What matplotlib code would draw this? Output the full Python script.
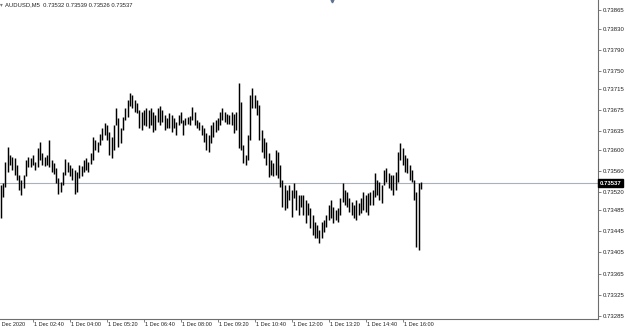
import matplotlib
matplotlib.use('Agg')  # Use non-GUI backend
import matplotlib.pyplot as plt
import matplotlib.transforms as mtransforms

# AUDUSD M5 bars (high / low per bar)
highs = [
    0.73533, 0.73537, 0.73577, 0.73605, 0.73590, 0.73586, 0.73585, 0.73571, 0.73552, 0.73543,
    0.73552, 0.73581, 0.73586, 0.73585, 0.73590, 0.73577, 0.73604, 0.73615, 0.73594, 0.73586,
    0.73590, 0.73619, 0.73581, 0.73575, 0.73566, 0.73547, 0.73539, 0.73558, 0.73583, 0.73577,
    0.73571, 0.73566, 0.73562, 0.73558, 0.73571, 0.73569, 0.73581, 0.73585, 0.73577, 0.73594,
    0.73624, 0.73619, 0.73615, 0.73630, 0.73642, 0.73651, 0.73647, 0.73634, 0.73624, 0.73647,
    0.73680, 0.73661, 0.73642, 0.73662, 0.73680, 0.73695, 0.73708, 0.73704, 0.73695, 0.73689,
    0.73676, 0.73672, 0.73676, 0.73680, 0.73676, 0.73680, 0.73672, 0.73666, 0.73680, 0.73683,
    0.73676, 0.73666, 0.73661, 0.73670, 0.73666, 0.73661, 0.73653, 0.73666, 0.73672, 0.73657,
    0.73661, 0.73662, 0.73664, 0.73681, 0.73672, 0.73657, 0.73653, 0.73647, 0.73642, 0.73632,
    0.73628, 0.73647, 0.73653, 0.73657, 0.73661, 0.73672, 0.73680, 0.73672, 0.73668, 0.73666,
    0.73672, 0.73668, 0.73672, 0.73727, 0.73691, 0.73609, 0.73590, 0.73628, 0.73704, 0.73718,
    0.73704, 0.73695, 0.73685, 0.73638, 0.73623, 0.73615, 0.73594, 0.73581, 0.73575, 0.73600,
    0.73596, 0.73571, 0.73543, 0.73533, 0.73524, 0.73533, 0.73524, 0.73537, 0.73524, 0.73514,
    0.73514, 0.73514, 0.73505, 0.73499, 0.73490, 0.73476, 0.73463, 0.73457, 0.73448, 0.73463,
    0.73467, 0.73476, 0.73495, 0.73505, 0.73491, 0.73486, 0.73490, 0.73509, 0.73537, 0.73524,
    0.73520, 0.73509, 0.73501, 0.73495, 0.73505, 0.73499, 0.73509, 0.73520, 0.73514, 0.73518,
    0.73520, 0.73524, 0.73556, 0.73543, 0.73539, 0.73533, 0.73562, 0.73566, 0.73556, 0.73552,
    0.73552, 0.73558, 0.73596, 0.73613, 0.73604, 0.73590, 0.73585, 0.73571, 0.73562, 0.73543,
    0.73520, 0.73537, 0.73539,
]
lows = [
    0.73471, 0.73510, 0.73529, 0.73558, 0.73571, 0.73562, 0.73552, 0.73543, 0.73524, 0.73514,
    0.73527, 0.73550, 0.73567, 0.73567, 0.73571, 0.73562, 0.73567, 0.73581, 0.73571, 0.73569,
    0.73571, 0.73567, 0.73558, 0.73554, 0.73537, 0.73516, 0.73520, 0.73533, 0.73552, 0.73558,
    0.73550, 0.73543, 0.73516, 0.73520, 0.73547, 0.73550, 0.73558, 0.73562, 0.73558, 0.73573,
    0.73581, 0.73600, 0.73596, 0.73609, 0.73619, 0.73628, 0.73619, 0.73590, 0.73585, 0.73600,
    0.73647, 0.73605, 0.73613, 0.73638, 0.73657, 0.73662, 0.73683, 0.73680, 0.73672, 0.73670,
    0.73642, 0.73638, 0.73647, 0.73645, 0.73642, 0.73647, 0.73634, 0.73638, 0.73653, 0.73647,
    0.73653, 0.73638, 0.73642, 0.73642, 0.73634, 0.73642, 0.73628, 0.73647, 0.73651, 0.73628,
    0.73647, 0.73649, 0.73647, 0.73657, 0.73647, 0.73642, 0.73638, 0.73628, 0.73615, 0.73600,
    0.73596, 0.73613, 0.73624, 0.73634, 0.73638, 0.73647, 0.73657, 0.73653, 0.73649, 0.73649,
    0.73647, 0.73632, 0.73638, 0.73604, 0.73600, 0.73575, 0.73571, 0.73581, 0.73619, 0.73680,
    0.73680, 0.73666, 0.73619, 0.73596, 0.73585, 0.73571, 0.73548, 0.73552, 0.73550, 0.73552,
    0.73547, 0.73529, 0.73491, 0.73486, 0.73490, 0.73505, 0.73472, 0.73509, 0.73486, 0.73476,
    0.73491, 0.73476, 0.73461, 0.73476, 0.73452, 0.73438, 0.73433, 0.73433, 0.73423, 0.73433,
    0.73444, 0.73453, 0.73467, 0.73471, 0.73461, 0.73467, 0.73463, 0.73476, 0.73501, 0.73495,
    0.73491, 0.73482, 0.73476, 0.73471, 0.73467, 0.73476, 0.73480, 0.73486, 0.73482, 0.73476,
    0.73495, 0.73495, 0.73510, 0.73514, 0.73505, 0.73499, 0.73533, 0.73539, 0.73527, 0.73524,
    0.73514, 0.73524, 0.73539, 0.73581, 0.73571, 0.73558, 0.73556, 0.73543, 0.73539, 0.73505,
    0.73415, 0.73410, 0.73526,
]

symbol = "AUDUSD,M5"
last_ohlc = ["0.73532", "0.73539", "0.73526", "0.73537"]
last_price = 0.73537

price_ticks = [0.73865, 0.73830, 0.73790, 0.73750, 0.73715, 0.73675, 0.73635, 0.73600,
               0.73560, 0.73520, 0.73485, 0.73445, 0.73405, 0.73365, 0.73325, 0.73285]
# time labels every 16 bars (80 min), bar index of each label
time_idx = [-2, 14, 30, 46, 62, 78, 94, 110, 126, 142, 158, 174]
time_labels = ["1 Dec 2020", "1 Dec 02:40", "1 Dec 04:00", "1 Dec 05:20", "1 Dec 06:40",
               "1 Dec 08:00", "1 Dec 09:20", "1 Dec 10:40", "1 Dec 12:00", "1 Dec 13:20",
               "1 Dec 14:40", "1 Dec 16:00"]

plt.rcParams['font.family'] = ['Liberation Sans', 'DejaVu Sans']

W, H = 625, 330
fig = plt.figure(figsize=(W / 100, H / 100), dpi=100)
ax = fig.add_axes([0, 11 / H, 598 / W, 319 / H])

bars_x = list(range(len(highs)))
ax.vlines(bars_x, lows, highs, colors='black', linewidth=1.05)

ax.set_xlim(-0.3, 258.6)
ax.set_ylim(0.732786, 0.738847)

# current price line
ax.axhline(last_price, color='#a9b1ba', linewidth=0.8, zorder=0)

for s in ['top', 'left']:
    ax.spines[s].set_visible(False)
for s in ['right', 'bottom']:
    ax.spines[s].set_color('#6e6e6e')
    ax.spines[s].set_linewidth(0.8)

ax.yaxis.tick_right()
ax.set_yticks(price_ticks)
ax.set_yticklabels([f"{p:.5f}" for p in price_ticks])
ax.tick_params(axis='y', direction='out', length=2.2, width=0.6, color='#6e6e6e',
               pad=1.2, labelsize=4.3, labelcolor='#222222')

vis = [i for i in time_idx if i >= 0]
ax.set_xticks(vis)
ax.set_xticklabels([])
ax.tick_params(axis='x', direction='out', length=2.5, width=0.6, color='#6e6e6e')
trans = mtransforms.blended_transform_factory(ax.transData, ax.transAxes)
for i, lab in zip(time_idx, time_labels):
    ax.text(i + 0.5, -0.008, lab, transform=trans, ha='left', va='top',
            fontsize=4.0, color='#222222', clip_on=False)

# price box on the scale
ax.text(1.003, last_price, f"{last_price:.5f}",
        transform=mtransforms.blended_transform_factory(ax.transAxes, ax.transData),
        ha='left', va='center', fontsize=4.3, color='white', fontweight='bold',
        bbox=dict(boxstyle='square,pad=0.3', fc='black', ec='black'), clip_on=False)

# header
fig.text(5 / W, 1 - 5 / H, symbol + "  " + " ".join(last_ohlc), ha='left', va='center',
         fontsize=4.2, color='#222222')
fig.text(1.5 / W, 1 - 4.5 / H, "▾", ha='center', va='center', fontsize=4, color='#777777',
         family='DejaVu Sans')

# chart shift marker at the top
ax.plot([143.5], [1 - 1.2 / 319], marker='v', ms=2.0, color='#5f7391',
        transform=trans, clip_on=False, linestyle='none')

fig.savefig('out.png', dpi=100)
plt.close(fig)
